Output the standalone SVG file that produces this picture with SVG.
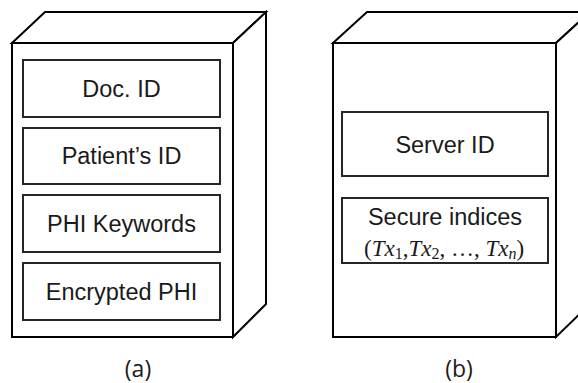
<svg xmlns="http://www.w3.org/2000/svg" width="578" height="383" viewBox="0 0 578 383">
  <style>
    .solid { fill: #ffffff; stroke: #000000; stroke-width: 2; stroke-linejoin: miter; }
    .field { fill: #ffffff; stroke: #262626; stroke-width: 2; }
    .lbl { font-family: "Liberation Sans", Arial, sans-serif; font-size: 23.5px; fill: #1a1a1a; text-anchor: middle; dominant-baseline: central; }
    .math { font-family: "Liberation Serif", "Times New Roman", serif; font-size: 23px; fill: #1a1a1a; text-anchor: middle; dominant-baseline: central; }
    .cap { font-family: "Open Sans", "Liberation Sans", sans-serif; font-size: 23px; fill: #1a1a1a; text-anchor: middle; dominant-baseline: central; }
  </style>

  <!-- (a) document record store -->
  <g id="store-a">
    <path class="solid" d="M12 43 L45 12 L266 12 L233 43 Z"/>
    <path class="solid" d="M233 43 L266 12 L266 304 L233 337 Z"/>
    <rect class="solid" x="12" y="43" width="221" height="294"/>
  </g>
  <g id="doc-id">
    <rect class="field" x="23" y="60" width="197" height="57"/>
    <text class="lbl" x="121.5" y="88.5">Doc. ID</text>
  </g>
  <g id="patient-id">
    <rect class="field" x="23" y="128" width="197" height="56"/>
    <text class="lbl" x="121.5" y="156">Patient’s ID</text>
  </g>
  <g id="phi-keywords">
    <rect class="field" x="23" y="195" width="197" height="57"/>
    <text class="lbl" x="121.5" y="223.5">PHI Keywords</text>
  </g>
  <g id="encrypted-phi">
    <rect class="field" x="23" y="263" width="197" height="57"/>
    <text class="lbl" x="121.5" y="291.5">Encrypted PHI</text>
  </g>
  <text class="cap" x="138" y="368">(a)</text>

  <!-- (b) server index store -->
  <g id="store-b">
    <path class="solid" d="M333 43 L367 12 L590 12 L556 43 Z"/>
    <path class="solid" d="M556 43 L590 12 L590 304 L556 337 Z"/>
    <rect class="solid" x="333" y="43" width="223" height="294"/>
  </g>
  <g id="server-id">
    <rect class="field" x="342" y="112" width="206" height="64"/>
    <text class="lbl" x="445" y="144.5">Server ID</text>
  </g>
  <g id="secure-indices">
    <rect class="field" x="342" y="198" width="206" height="65"/>
    <text class="lbl" x="445" y="217">Secure indices</text>
    <text class="math" x="444" y="248">(<tspan font-style="italic">Tx</tspan><tspan font-size="16" dy="5">1</tspan><tspan dy="-5">,</tspan><tspan font-style="italic">Tx</tspan><tspan font-size="16" dy="5">2</tspan><tspan dy="-5">, …, </tspan><tspan font-style="italic">Tx</tspan><tspan font-size="16" font-style="italic" dy="5">n</tspan><tspan dy="-5">)</tspan></text>
  </g>
  <text class="cap" x="459" y="368">(b)</text>
</svg>
